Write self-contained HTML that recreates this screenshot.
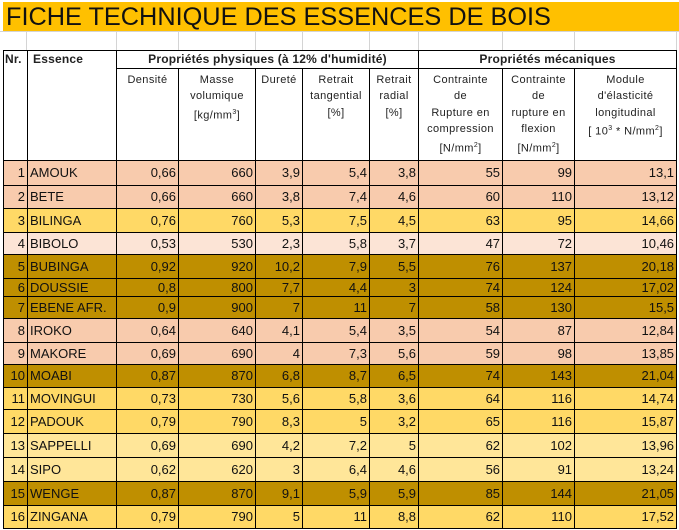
<!DOCTYPE html>
<html><head><meta charset="utf-8"><style>
body{margin:0;width:679px;height:530px;background:#fff;position:relative;overflow:hidden;font-family:"Liberation Sans",sans-serif}
.title{position:absolute;left:3px;top:2px;width:676px;height:29px;background:#ffc000;font-size:25.3px;line-height:30px;padding-left:3px;box-sizing:border-box;color:#111}
.g{position:absolute;top:31px;height:19px;width:1px;background:#d4d4d4}
.gh{position:absolute;left:0;top:31px;width:679px;height:1px;background:#d4d4d4}
table{position:absolute;left:3px;top:50px;border-collapse:collapse;table-layout:fixed;width:673px}
td{border:1px solid #000;padding:0 2px;font-size:13px;color:#111;white-space:nowrap;overflow:hidden}
td.n{text-align:right}
.h td{font-size:11px;letter-spacing:0.4px;text-align:center;vertical-align:top;line-height:16.5px;white-space:nowrap;padding:3px 0 0 0;color:#222}
.hb td{font-weight:bold;vertical-align:top;padding-top:0;letter-spacing:0.2px}
.s{background:#f8cbad}.y{background:#ffd966}.p{background:#fce4d6}.d{background:#bf8f00}.l{background:#ffe699}
</style></head><body>
<div class="title">FICHE TECHNIQUE DES ESSENCES DE BOIS</div>
<div class="gh"></div>
<div class="g" style="left:26px"></div><div class="g" style="left:116px"></div><div class="g" style="left:178px"></div><div class="g" style="left:255px"></div><div class="g" style="left:302px"></div><div class="g" style="left:369px"></div><div class="g" style="left:418px"></div><div class="g" style="left:502px"></div><div class="g" style="left:574px"></div><div class="g" style="left:676px"></div>
<table>
<colgroup><col style="width:24px"><col style="width:89px"><col style="width:62px"><col style="width:77px"><col style="width:47px"><col style="width:67px"><col style="width:49px"><col style="width:84px"><col style="width:72px"><col style="width:102px"></colgroup>
<tr class="h hb" style="height:17px"><td rowspan="2" style="font-size:12px;text-align:left;padding:0 1px">Nr.</td><td rowspan="2" style="font-size:12px;text-align:left;padding-left:5px">Essence</td><td colspan="5" style="font-size:12px">Propriétés physiques (à 12% d'humidité)</td><td colspan="3" style="font-size:12px">Propriétés mécaniques</td></tr>
<tr class="h" style="height:92px"><td>Densité</td><td>Masse<br>volumique<br>[kg/mm<sup style="font-size:7px">3</sup>]</td><td>Dureté</td><td>Retrait<br>tangential<br>[%]</td><td>Retrait<br>radial<br>[%]</td><td>Contrainte<br>de<br>Rupture en<br>compression<br>[N/mm<sup style="font-size:7px">2</sup>]</td><td>Contrainte<br>de<br>rupture en<br>flexion<br>[N/mm<sup style="font-size:7px">2</sup>]</td><td>Module<br>d'élasticité<br>longitudinal<br>[ 10<sup style="font-size:7px">3</sup> * N/mm<sup style="font-size:7px">2</sup>]</td></tr>
<tr class="s" style="height:25px"><td class="n">1</td><td>AMOUK</td><td class="n">0,66</td><td class="n">660</td><td class="n">3,9</td><td class="n">5,4</td><td class="n">3,8</td><td class="n">55</td><td class="n">99</td><td class="n">13,1</td></tr>
<tr class="s" style="height:23px"><td class="n">2</td><td>BETE</td><td class="n">0,66</td><td class="n">660</td><td class="n">3,8</td><td class="n">7,4</td><td class="n">4,6</td><td class="n">60</td><td class="n">110</td><td class="n">13,12</td></tr>
<tr class="y" style="height:24px"><td class="n">3</td><td>BILINGA</td><td class="n">0,76</td><td class="n">760</td><td class="n">5,3</td><td class="n">7,5</td><td class="n">4,5</td><td class="n">63</td><td class="n">95</td><td class="n">14,66</td></tr>
<tr class="p" style="height:22px"><td class="n">4</td><td>BIBOLO</td><td class="n">0,53</td><td class="n">530</td><td class="n">2,3</td><td class="n">5,8</td><td class="n">3,7</td><td class="n">47</td><td class="n">72</td><td class="n">10,46</td></tr>
<tr class="d" style="height:24px"><td class="n">5</td><td>BUBINGA</td><td class="n">0,92</td><td class="n">920</td><td class="n">10,2</td><td class="n">7,9</td><td class="n">5,5</td><td class="n">76</td><td class="n">137</td><td class="n">20,18</td></tr>
<tr class="d" style="height:18px"><td class="n">6</td><td>DOUSSIE</td><td class="n">0,8</td><td class="n">800</td><td class="n">7,7</td><td class="n">4,4</td><td class="n">3</td><td class="n">74</td><td class="n">124</td><td class="n">17,02</td></tr>
<tr class="d" style="height:22px"><td class="n">7</td><td>EBENE AFR.</td><td class="n">0,9</td><td class="n">900</td><td class="n">7</td><td class="n">11</td><td class="n">7</td><td class="n">58</td><td class="n">130</td><td class="n">15,5</td></tr>
<tr class="s" style="height:24px"><td class="n">8</td><td>IROKO</td><td class="n">0,64</td><td class="n">640</td><td class="n">4,1</td><td class="n">5,4</td><td class="n">3,5</td><td class="n">54</td><td class="n">87</td><td class="n">12,84</td></tr>
<tr class="s" style="height:22px"><td class="n">9</td><td>MAKORE</td><td class="n">0,69</td><td class="n">690</td><td class="n">4</td><td class="n">7,3</td><td class="n">5,6</td><td class="n">59</td><td class="n">98</td><td class="n">13,85</td></tr>
<tr class="d" style="height:23px"><td class="n">10</td><td>MOABI</td><td class="n">0,87</td><td class="n">870</td><td class="n">6,8</td><td class="n">8,7</td><td class="n">6,5</td><td class="n">74</td><td class="n">143</td><td class="n">21,04</td></tr>
<tr class="y" style="height:22px"><td class="n">11</td><td>MOVINGUI</td><td class="n">0,73</td><td class="n">730</td><td class="n">5,6</td><td class="n">5,8</td><td class="n">3,6</td><td class="n">64</td><td class="n">116</td><td class="n">14,74</td></tr>
<tr class="y" style="height:24px"><td class="n">12</td><td>PADOUK</td><td class="n">0,79</td><td class="n">790</td><td class="n">8,3</td><td class="n">5</td><td class="n">3,2</td><td class="n">65</td><td class="n">116</td><td class="n">15,87</td></tr>
<tr class="l" style="height:24px"><td class="n">13</td><td>SAPPELLI</td><td class="n">0,69</td><td class="n">690</td><td class="n">4,2</td><td class="n">7,2</td><td class="n">5</td><td class="n">62</td><td class="n">102</td><td class="n">13,96</td></tr>
<tr class="l" style="height:24px"><td class="n">14</td><td>SIPO</td><td class="n">0,62</td><td class="n">620</td><td class="n">3</td><td class="n">6,4</td><td class="n">4,6</td><td class="n">56</td><td class="n">91</td><td class="n">13,24</td></tr>
<tr class="d" style="height:24px"><td class="n">15</td><td>WENGE</td><td class="n">0,87</td><td class="n">870</td><td class="n">9,1</td><td class="n">5,9</td><td class="n">5,9</td><td class="n">85</td><td class="n">144</td><td class="n">21,05</td></tr>
<tr class="y" style="height:23px"><td class="n">16</td><td>ZINGANA</td><td class="n">0,79</td><td class="n">790</td><td class="n">5</td><td class="n">11</td><td class="n">8,8</td><td class="n">62</td><td class="n">110</td><td class="n">17,52</td></tr>
</table>
</body></html>
